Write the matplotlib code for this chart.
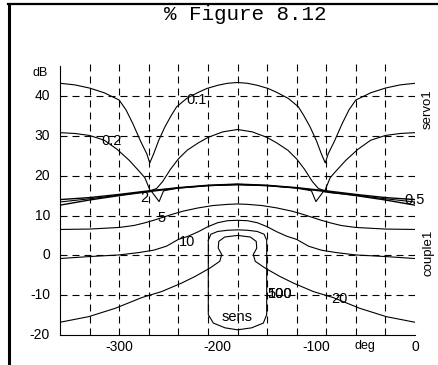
import matplotlib
matplotlib.use("Agg")
import matplotlib.pyplot as plt
from matplotlib.lines import Line2D

plt.rcParams["font.family"] = "Liberation Sans"
plt.rcParams["axes.unicode_minus"] = False

# ---- data (phase in deg, gain in dB) ----
c01_ph = [-360, -345, -330, -315, -300, -293, -286, -278, -272, -269, -265, -260, -253.5,
          -247, -241.7, -231.5, -220, -211, -200, -190, -180, -170, -160, -149, -140,
          -128.5, -118.3, -113, -106.5, -100, -95, -91, -88, -82, -74, -67, -60, -45,
          -30, -15, 0]
c01_db = [43.2, 42.8, 42.0, 40.8, 39.0, 36.5, 33.0, 28.5, 25.5, 23.2, 25.5, 28.8, 32.3,
          35.2, 37.3, 39.4, 40.9, 41.9, 42.7, 43.2, 43.4, 43.2, 42.7, 41.9, 40.9,
          39.4, 37.3, 35.2, 32.3, 28.8, 25.5, 23.2, 25.5, 28.5, 33.0, 36.5, 39.0, 40.8,
          42.0, 42.8, 43.2]

c02_ph = [-360, -345, -330, -315, -302, -290, -280, -274, -268.5, -262, -256, -248, -240,
          -231, -220, -210, -195, -180, -165, -150, -140, -129, -120, -112, -104, -98,
          -91.5, -86, -80, -70, -58, -45, -30, -15, 0]
c02_db = [30.8, 30.6, 30.1, 28.9, 26.6, 23.9, 21.2, 19.5, 16.2, 16.8, 18.5, 21.6, 24.2,
          26.4, 28.2, 29.6, 31.0, 31.6, 31.0, 29.6, 28.2, 26.4, 24.2, 21.6, 18.5, 16.8,
          16.2, 19.5, 21.2, 23.9, 26.6, 28.9, 30.1, 30.6, 30.8]

band_ph = [-360, -330, -300, -270, -240, -210, -180, -150, -120, -90, -60, -30, 0]
c05_db = [12.6, 13.9, 15.0, 16.0, 16.9, 17.5, 17.8, 17.5, 16.9, 16.0, 15.0, 13.9, 12.6]
c1_db = [14.0, 14.5, 15.3, 16.2, 17.0, 17.6, 17.9, 17.6, 17.0, 16.2, 15.3, 14.5, 14.0]

c2_ph = [-360, -330, -300, -275, -267, -259.5, -255, -240, -210, -180, -150, -120,
         -105, -100.5, -93, -85, -60, -30, 0]
c2_db = [13.4, 14.2, 15.1, 15.9, 16.0, 13.5, 16.2, 16.9, 17.5, 17.7, 17.5, 16.9,
         16.2, 13.5, 16.0, 15.7, 15.1, 14.2, 13.4]

c5_ph = [-360, -330, -300, -285, -275, -265, -255, -245, -235, -220, -205, -190, -180,
         -170, -155, -140, -125, -115, -105, -95, -85, -75, -60, -30, 0]
c5_db = [6.5, 6.6, 7.0, 7.5, 8.1, 8.8, 9.6, 10.4, 11.1, 11.9, 12.5, 12.8, 12.9,
         12.8, 12.5, 11.9, 11.1, 10.4, 9.6, 8.8, 8.1, 7.5, 7.0, 6.6, 6.5]

c10_ph = [-360, -330, -300, -280, -265, -252, -240, -230, -220, -210, -200, -190, -180,
          -170, -160, -150, -140, -130, -120, -108, -95, -80, -60, -30, 0]
c10_db = [-0.8, -0.3, 0.1, 0.7, 1.3, 2.3, 4.0, 4.8, 5.9, 7.2, 8.2, 8.7, 8.8,
          8.7, 8.2, 7.2, 5.9, 4.8, 4.0, 2.3, 1.3, 0.7, 0.1, -0.3, -0.8]

c20_ph = [-360, -331, -304, -277, -257, -237, -223, -208, -198, -196, -199.5, -199, -193,
          -180, -167, -161, -160.5, -164, -162, -152, -137, -123, -103, -83, -56, -29, 0]
c20_db = [-16.8, -15.4, -13.3, -10.6, -9.1, -7.0, -5.3, -3.2, -1.5, 0.2, 1.8, 3.5, 4.6,
          5.0, 4.6, 3.5, 1.8, 0.2, -1.5, -3.2, -5.3, -7.0, -9.1, -10.6, -13.3, -15.4, -16.8]

sens_ph = [-209.6, -207, -200, -190, -180, -170, -160, -153, -150.4, -150.4, -153.8,
           -165.6, -180, -192.7, -204.5, -209.6, -209.6]
sens_db = [3.8, 5.3, 6.0, 6.3, 6.4, 6.3, 6.0, 5.3, 3.8, -14.9, -17.0,
           -18.2, -18.7, -18.2, -17.0, -14.9, 3.8]

labels = ["0.1", "0.2", "2", "5", "10", "500", "100", "20", "sens", "0.5"]
label_ph = [-221.6, -307.6, -275, -256.6, -231.2, -136.9, -136.9, -77.1, -180.8, 0]
label_db = [39.1, 28.8, 14.5, 9.3, 3.3, -9.6, -9.6, -11.0, -15.6, 13.9]

grid_x = [-330, -300, -270, -240, -210, -180, -150, -120, -90, -60, -30]
grid_y = [40, 30, 20, 10, 0, -10]
xtick_vals = [-300, -200, -100, 0]
ytick_vals = [40, 30, 20, 10, 0, -10, -20]

# ---- figure ----
fig = plt.figure(figsize=(4.38, 3.65), dpi=100)
ax = fig.add_axes([60 / 438, 30 / 365, 355 / 438, 278.8 / 365])
ax.set_xlim(-360, 0)
ax.set_ylim(-20, 50)

dash = (0, (6.3, 4.5))
for gx in grid_x:
    ax.plot([gx, gx], [-20, 49], color="black", lw=0.8, linestyle=dash)
for gy in grid_y:
    ax.plot([-360, 0], [gy, gy], color="black", lw=0.8, linestyle=dash)

kw = dict(color="black", lw=0.8)
ax.plot(c01_ph, c01_db, **kw)
ax.plot(c02_ph, c02_db, **kw)
ax.plot(band_ph, c05_db, color="black", lw=1.0)
ax.plot(band_ph, c1_db, color="black", lw=1.0)
ax.plot(c2_ph, c2_db, **kw)
ax.plot(c5_ph, c5_db, **kw)
ax.plot(c10_ph, c10_db, **kw)
ax.plot(c20_ph, c20_db, **kw)
ax.plot(sens_ph, sens_db, **kw)

for t, px, py in zip(labels, label_ph, label_db):
    ax.text(px, py, t, fontsize=10.5, ha="center", va="center", clip_on=False)

# axes frame: only left and bottom
for s in ("top", "right"):
    ax.spines[s].set_visible(False)
ax.spines["left"].set_bounds(-20, 47.5)
ax.spines["left"].set_linewidth(0.8)
ax.spines["bottom"].set_linewidth(0.8)
ax.set_xticks([])
ax.set_yticks([])

for v in ytick_vals:
    ax.text(-370.1, v, str(v), fontsize=10, ha="right", va="center", clip_on=False)
for v in xtick_vals:
    ax.text(v, -23.0, str(v), fontsize=10, ha="center", va="center", clip_on=False)
ax.text(-380.3, 45.8, "dB", fontsize=9, ha="center", va="center", clip_on=False)
ax.text(-50.7, -22.8, "deg", fontsize=9, ha="center", va="center", clip_on=False)
ax.text(13.2, 36.7, "servo1", fontsize=9.5, rotation=90, ha="center", va="center", clip_on=False)
ax.text(13.2, 0.7, "couple1", fontsize=9.5, rotation=90, ha="center", va="center", clip_on=False)

fig.text(245.5 / 438, 1 - 20 / 365, "% Figure 8.12", family="Liberation Mono",
         fontsize=15, ha="center", va="baseline")

# outer window frame
fig.add_artist(Line2D([9 / 438, 9 / 438], [0, 1 - 4 / 365], transform=fig.transFigure,
                      color="black", lw=2.2))
fig.add_artist(Line2D([8 / 438, 1], [1 - 4 / 365, 1 - 4 / 365], transform=fig.transFigure,
                      color="black", lw=1.6))

fig.savefig("out.png", dpi=100)
